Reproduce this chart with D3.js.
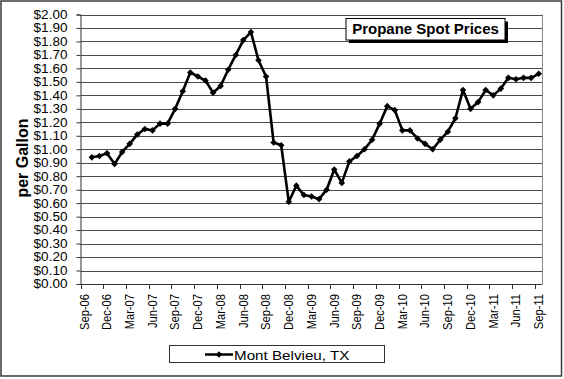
<!DOCTYPE html>
<html><head><meta charset="utf-8">
<script src="https://cdn.jsdelivr.net/npm/d3@7"></script>
<style>
body{margin:0;background:#fff;}
svg{display:block;font-family:"Liberation Sans",Arial,sans-serif;}
</style></head>
<body>
<svg id="chart" width="564" height="379"></svg>
<script>
// ---- data ----
const months = d3.timeMonths(new Date(2006,8,1), new Date(2011,9,1)).map(d3.timeFormat("%b-%y"));
const prices = [null,
 0.94,0.95,0.97,0.89,0.98,1.04,1.11,1.15,1.14,1.19,1.19,1.30,1.43,1.57,1.54,1.51,1.42,1.47,1.59,1.70,
 1.81,1.87,1.66,1.54,1.05,1.03,0.61,0.73,0.66,0.65,0.63,0.70,0.85,0.75,0.91,0.95,1.00,1.07,1.19,1.32,
 1.29,1.14,1.14,1.08,1.04,1.00,1.07,1.13,1.23,1.44,1.30,1.35,1.44,1.40,1.45,1.53,1.52,1.53,1.53,1.56];
const yTicks = d3.range(0, 21).map(i => i/10);
const xLabelEvery = 3;
const seriesName = "Mont Belvieu, TX";
const chartTitle = "Propane Spot Prices";
const yTitle = "per Gallon";

const data = months.map((m,i)=>({m, v: prices[i]}));

// ---- layout ----
const svg = d3.select("#chart");
const L = 80.5, R = 542.5, T = 14.5, B = 284;

svg.append("rect").attr("x",1).attr("y",1).attr("width",560.5).attr("height",375)
  .attr("fill","#fff").attr("stroke","#3a3a3a").attr("stroke-width",1.5);

const x = d3.scaleBand().domain(months).range([L,R]).padding(0);
const y = d3.scaleLinear().domain([0,2]).range([B,T]);
const cx = m => x(m) + x.bandwidth()/2;

// gridlines
svg.append("g").selectAll("line").data(yTicks.filter(t=>t>0)).join("line")
  .attr("x1",L).attr("x2",R)
  .attr("y1",d=>Math.round(y(d))+0.5).attr("y2",d=>Math.round(y(d))+0.5)
  .attr("stroke","#4a4a4a").attr("stroke-width",1);

// plot area right border
svg.append("line").attr("x1",R).attr("x2",R).attr("y1",T).attr("y2",B)
  .attr("stroke","#888").attr("stroke-width",1);

// y axis
const yAxis = d3.axisLeft(y).tickValues(yTicks).tickSize(4).tickPadding(7)
  .tickFormat(d3.format("$.2f"));
const gy = svg.append("g").attr("transform",`translate(${L},0)`).call(yAxis);
gy.select(".domain").attr("stroke","#333");
gy.selectAll(".tick line").attr("stroke","#333");
gy.selectAll(".tick text").attr("font-size",12).attr("fill","#000")
  .attr("font-family","'Liberation Sans',Arial,sans-serif")
  .each(function(){ const t=d3.select(this); const xx=+t.attr("x");
     t.attr("x",null).attr("transform",`translate(${xx-2},0) scale(1.13,1)`); });

// x axis
const tickMonths = months.filter((m,i)=>i%xLabelEvery===0);
const gx = svg.append("g").attr("transform",`translate(0,${B})`);
gx.append("line").attr("x1",L).attr("x2",R).attr("y1",0.5).attr("y2",0.5).attr("stroke","#333");
gx.selectAll(".xt").data(tickMonths).join("line").attr("class","xt")
  .attr("x1",m=>Math.round(x(m))+0.5).attr("x2",m=>Math.round(x(m))+0.5)
  .attr("y1",0).attr("y2",5).attr("stroke","#333");
gx.selectAll(".xl").data(tickMonths).join("text").attr("class","xl")
  .attr("transform",m=>`translate(${cx(m)+4.3},10) rotate(-90) scale(0.93,1)`)
  .attr("text-anchor","end").attr("font-size",12).attr("fill","#000").text(m=>m);

// y title
svg.append("text").attr("transform",`translate(28,158) rotate(-90)`)
  .attr("text-anchor","middle").attr("font-weight","bold").attr("font-size",16).text(yTitle);

// line
const line = d3.line().defined(d=>d.v!=null).x(d=>cx(d.m)).y(d=>y(d.v));
svg.append("path").datum(data).attr("d",line).attr("fill","none")
  .attr("stroke","#000").attr("stroke-width",2.6).attr("stroke-linejoin","round");
const diamond = (px,py,r)=>`M${px},${py-r}L${px+r},${py}L${px},${py+r}L${px-r},${py}Z`;
svg.append("g").selectAll("path").data(data.filter(d=>d.v!=null)).join("path")
  .attr("d",d=>diamond(cx(d.m),y(d.v),3.3)).attr("fill","#000");

// title box
const tb = {x:346, y:18.5, w:159, h:21.5};
svg.append("rect").attr("x",tb.x+3).attr("y",tb.y+3).attr("width",tb.w).attr("height",tb.h).attr("fill","#000");
svg.append("rect").attr("x",tb.x).attr("y",tb.y).attr("width",tb.w).attr("height",tb.h)
  .attr("fill","#fff").attr("stroke","#000").attr("stroke-width",1);
svg.append("text").attr("x",tb.x+tb.w/2).attr("y",tb.y+15).attr("text-anchor","middle")
  .attr("font-weight","bold").attr("font-size",15).text(chartTitle);

// legend
const lg = svg.append("g");
lg.append("rect").attr("x",169.5).attr("y",345.5).attr("width",215).attr("height",17)
  .attr("fill","#fff").attr("stroke","#333").attr("stroke-width",1);
lg.append("line").attr("x1",205).attr("x2",233).attr("y1",354.5).attr("y2",354.5)
  .attr("stroke","#000").attr("stroke-width",2.5);
lg.append("path").attr("d",diamond(219,354.5,3.2)).attr("fill","#000");
lg.append("text").attr("transform","translate(234,359.5) scale(1.17,1)")
  .attr("font-size",13).text(seriesName);
</script>
</body></html>
